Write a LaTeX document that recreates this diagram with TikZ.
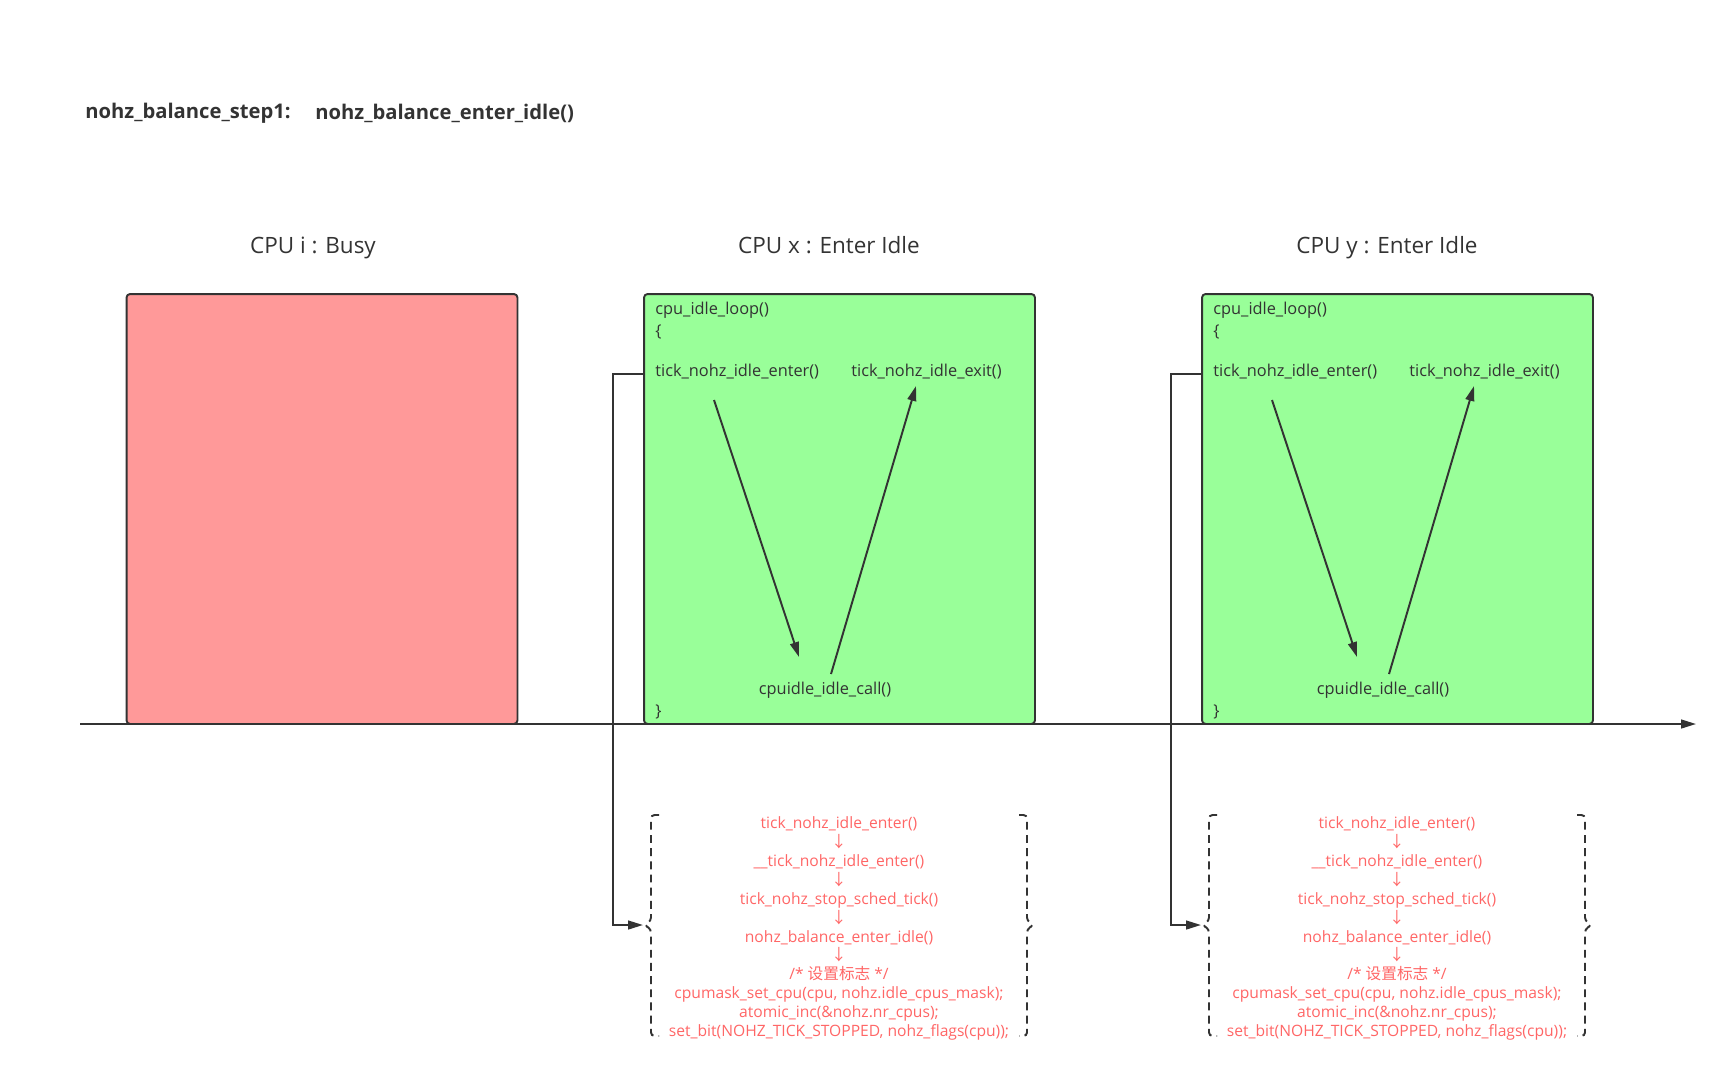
\documentclass[tikz,border=0pt]{standalone}
\usepackage{fontspec}
\setmainfont{Open Sans}
\newfontfamily\cjk{Noto Sans CJK SC}
\usetikzlibrary{arrows.meta,positioning}

\definecolor{busyred}{HTML}{FF9999}
\definecolor{idlegreen}{HTML}{99FF99}
\definecolor{edgegray}{HTML}{333333}
\definecolor{notered}{HTML}{FF6666}

\tikzset{
  cpubox/.style={draw=edgegray, line width=1.1pt, rounded corners=2pt,
    minimum width=7.82cm, minimum height=8.6cm, inner sep=0pt, outer sep=0pt},
  cpulabel/.style={text=edgegray, text height=0.75em, text depth=0.25em,
    font=\fontsize{12.8}{15}\selectfont},
  titletext/.style={text=edgegray, anchor=west, inner sep=0pt,
    font=\fontsize{11.5}{14}\selectfont\bfseries},
  boxtext/.style={text=edgegray, anchor=west, inner sep=0pt,
    font=\fontsize{9.3}{11}\selectfont},
  calltext/.style={text=notered, align=center, inner sep=0pt,
    font=\fontsize{8.9}{10.77}\selectfont},
  link/.style={draw=edgegray, line width=1.1pt},
  bracket/.style={draw=edgegray, line width=1.1pt, dash pattern=on 4.5pt off 3pt,
    rounded corners=2pt}
}

\begin{document}
\begin{tikzpicture}[x=0.02cm, y=-0.02cm,
    >={Triangle[length=8.5pt,width=5pt]}]
  \useasboundingbox (0,0) rectangle (1726,1068);

  % title
  \node[titletext] (title-step) at (85,113.5) {nohz\_balance\_step1:};
  \node[titletext] (title-func) at (315,113.5) {nohz\_balance\_enter\_idle()};

  % busy cpu
  \node[cpulabel] (cpui-label) at (313,249.5) {CPU i : Busy};
  \node[cpubox, fill=busyred] (cpui) at (322,509) {};

  % idle cpus
  \foreach \cx/\nm/\lbl in {644/x/{CPU x : Enter Idle}, 1202/y/{CPU y : Enter Idle}} {
    \begin{scope}[shift={(\cx,0)}]
      \node[cpulabel] (cpu\nm-label) at (185,249.5) {\lbl};
      \node[cpubox, fill=idlegreen] (cpu\nm) at (195.5,509) {};

      \node[boxtext] (loop\nm) at (11,310.5) {cpu\_idle\_loop()};
      \node[boxtext] (open\nm) at (11,331.5) {\{};
      \node[boxtext] (enter\nm) at (11,371.5) {tick\_nohz\_idle\_enter()};
      \node[boxtext] (exit\nm) at (207,371.5) {tick\_nohz\_idle\_exit()};
      \node[boxtext, anchor=center] (call\nm) at (181,690.5) {cpuidle\_idle\_call()};
      \node[boxtext] (close\nm) at (11,711.5) {\}};

      \coordinate (down\nm-a) at (70,400);
      \coordinate (down\nm-b) at (155,657);
      \coordinate (up\nm-a) at (187,674);
      \coordinate (up\nm-b) at (272,386);
      \draw[link, ->] (down\nm-a) -- (down\nm-b);
      \draw[link, ->] (up\nm-a) -- (up\nm-b);

      % call chain
      \node[calltext] (chain\nm) at (195,928.5) {%
        tick\_nohz\_idle\_enter()\\ {\cjk ↓}\\
        \_\_tick\_nohz\_idle\_enter()\\ {\cjk ↓}\\
        tick\_nohz\_stop\_sched\_tick()\\ {\cjk ↓}\\
        nohz\_balance\_enter\_idle()\\ {\cjk ↓}\\
        /* {\cjk 设置标志} */\\
        cpumask\_set\_cpu(cpu, nohz.idle\_cpus\_mask);\\
        atomic\_inc(\&nohz.nr\_cpus);\\
        set\_bit(NOHZ\_TICK\_STOPPED, nohz\_flags(cpu));};
      \draw[bracket] (15,815) -- (7,815) -- (7,921) -- (0,925) -- (7,929)
        -- (7,1036) -- (15,1036);
      \draw[bracket] (375,815) -- (383,815) -- (383,921) -- (390,925) -- (383,929)
        -- (383,1036) -- (375,1036);

      \coordinate (out\nm) at (0,374);
      \coordinate (turn\nm) at (-31,925);
      \coordinate (tip\nm) at (-1,925);
      \draw[link, ->] (out\nm) -| (turn\nm) -- (tip\nm);
    \end{scope}
  }

  % time axis
  \coordinate (tl-start) at (80,724);
  \coordinate (tl-end) at (1696,724);
  \draw[link, ->] (tl-start) -- (tl-end);
\end{tikzpicture}
\end{document}
